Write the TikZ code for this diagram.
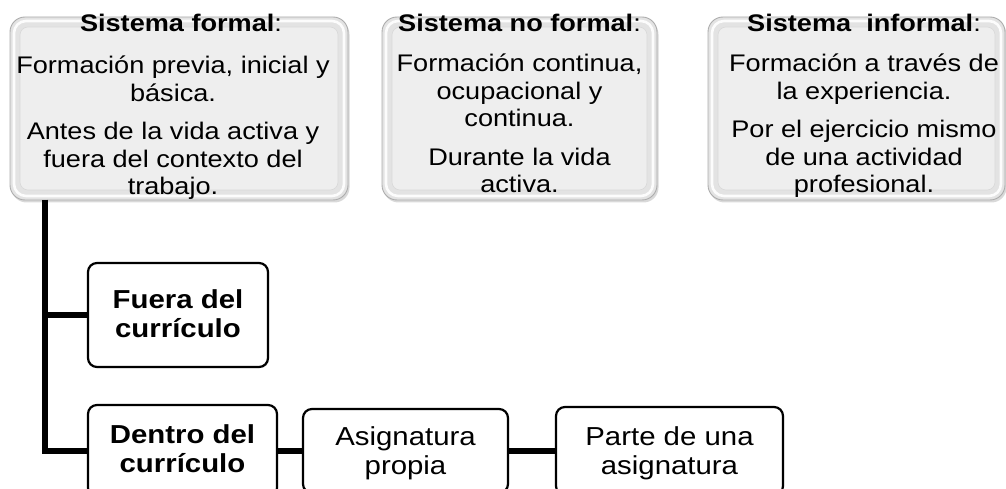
\documentclass[tikz,border=0pt]{standalone}
\usepackage{fontspec}
\setmainfont{Liberation Sans}[FakeStretch=1.13]
\usetikzlibrary{shadows}
\newcommand{\lines}[1]{\begin{tabular}[t]{@{}c@{}}#1\end{tabular}}
\begin{document}
\begin{tikzpicture}[x=1pt,y=-1pt,
  outerbox/.style={draw=gray!65,line width=0.9pt,rounded corners=15pt,fill=gray!22,
    drop shadow={shadow xshift=1.5pt,shadow yshift=-2.5pt,opacity=.3},inner sep=0pt},
  ringbox/.style={draw=white,line width=2.6pt,rounded corners=12pt,inner sep=0pt,opacity=.9},
  facebox/.style={draw=gray!30,line width=0.6pt,fill=gray!13,rounded corners=8pt,inner sep=0pt},
  whitebox/.style={draw=black,line width=2.2pt,fill=white,rounded corners=9pt,inner sep=0pt,
    drop shadow={shadow xshift=1.2pt,shadow yshift=-1.2pt,opacity=.2}},
  titletxt/.style={anchor=base,inner sep=0pt,font=\fontsize{24}{27}\selectfont},
  bodytxt/.style={anchor=base,inner sep=0pt,font=\fontsize{24}{27.5}\selectfont},
  lowtxt/.style={anchor=base,inner sep=0pt,font=\fontsize{26}{29}\selectfont},
  conn/.style={line width=5.5pt}]
\useasboundingbox (0,0) rectangle (1006,489);
% top boxes
\node[outerbox,minimum width=338pt,minimum height=183pt] (b1) at (179,108.5) {};
\node[ringbox,minimum width=330pt,minimum height=175pt] (r1) at (179,108.5) {};
\node[facebox,minimum width=318pt,minimum height=163pt] (f1) at (179,108.5) {};
\node[outerbox,minimum width=275pt,minimum height=183pt] (b2) at (519.5,108.5) {};
\node[ringbox,minimum width=267pt,minimum height=175pt] (r2) at (519.5,108.5) {};
\node[facebox,minimum width=255pt,minimum height=163pt] (f2) at (519.5,108.5) {};
\node[outerbox,minimum width=297pt,minimum height=183pt] (b3) at (856.5,108.5) {};
\node[ringbox,minimum width=289pt,minimum height=175pt] (r3) at (856.5,108.5) {};
\node[facebox,minimum width=277pt,minimum height=163pt] (f3) at (856.5,108.5) {};
\node[titletxt] (t1) at (181,32) {\textbf{Sistema formal}:};
\node[bodytxt] (x1) at (173,74) {\lines{Formación previa, inicial y\\básica.\\[11pt]Antes de la vida activa y\\fuera del contexto del\\trabajo.}};
\node[titletxt] (t2) at (519.5,32) {\textbf{Sistema no formal}:};
\node[bodytxt] (x2) at (519.5,72) {\lines{Formación continua,\\ocupacional y\\continua.\\[11pt]Durante la vida\\activa.}};
\node[titletxt] (t3) at (864,32) {\textbf{Sistema\ \ informal}:};
\node[bodytxt] (x3) at (864,72) {\lines{Formación a través de\\la experiencia.\\[11pt]Por el ejercicio mismo\\de una actividad\\profesional.}};
% lower boxes
\node[whitebox,minimum width=180pt,minimum height=104pt] (fuera) at (178,315) {};
\node[whitebox,minimum width=189pt,minimum height=92pt] (dentro) at (182.5,451) {};
\node[whitebox,minimum width=205pt,minimum height=84pt] (asig) at (405.5,451) {};
\node[whitebox,minimum width=227pt,minimum height=88pt] (parte) at (669.5,451) {};
\node[lowtxt] (tf) at (178,308) {\lines{\textbf{Fuera del}\\\textbf{currículo}}};
\node[lowtxt] (td) at (182.5,443) {\lines{\textbf{Dentro del}\\\textbf{currículo}}};
\node[lowtxt] (ta) at (405.5,445) {\lines{Asignatura\\propia}};
\node[lowtxt] (tp) at (669.5,445) {\lines{Parte de una\\asignatura}};
% connectors
\coordinate (trunk) at (45,200);
\draw[conn] (trunk) |- (fuera.west);
\draw[conn] (trunk) |- (dentro.west);
\draw[conn] (dentro.east) -- (asig.west);
\draw[conn] (asig.east) -- (parte.west);
\end{tikzpicture}
\end{document}
